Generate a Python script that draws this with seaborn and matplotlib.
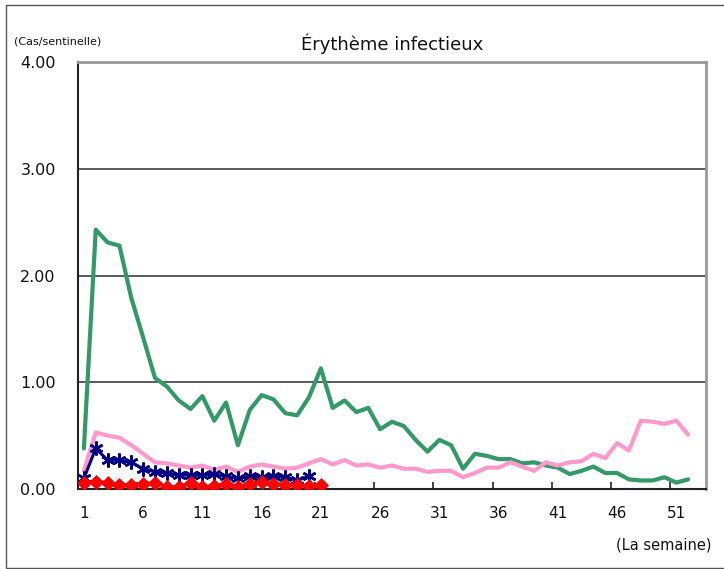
import numpy as np
import pandas as pd
import matplotlib
matplotlib.use("Agg")
import matplotlib.pyplot as plt
import seaborn as sns
from matplotlib.patches import Rectangle
from matplotlib.ticker import FixedLocator, FormatStrFormatter

# Données hebdomadaires (cas par sentinelle)
weeks_full = list(range(1, 53))
weeks_part_blue = list(range(1, 21))
weeks_part_red = list(range(1, 22))

green_vals = [0.38, 2.43, 2.31, 2.28, 1.79, 1.42, 1.04, 0.96, 0.83, 0.75,
              0.87, 0.64, 0.81, 0.41, 0.74, 0.88, 0.84, 0.71, 0.69, 0.86,
              1.13, 0.76, 0.83, 0.72, 0.76, 0.56, 0.63, 0.59, 0.46, 0.35,
              0.46, 0.41, 0.19, 0.33, 0.31, 0.28, 0.28, 0.24, 0.25, 0.22,
              0.20, 0.14, 0.17, 0.21, 0.15, 0.15, 0.09, 0.08, 0.08, 0.11,
              0.06, 0.09]
pink_vals = [0.17, 0.53, 0.50, 0.48, 0.41, 0.33, 0.25, 0.24, 0.22, 0.20,
             0.22, 0.18, 0.21, 0.16, 0.21, 0.23, 0.21, 0.19, 0.20, 0.24,
             0.28, 0.23, 0.27, 0.22, 0.23, 0.20, 0.22, 0.19, 0.19, 0.16,
             0.17, 0.17, 0.11, 0.15, 0.20, 0.20, 0.25, 0.21, 0.17, 0.25,
             0.22, 0.25, 0.26, 0.33, 0.29, 0.43, 0.36, 0.64, 0.63, 0.61,
             0.64, 0.51]
blue_vals = [0.10, 0.38, 0.27, 0.27, 0.25, 0.19, 0.16, 0.15, 0.13, 0.13,
             0.13, 0.14, 0.12, 0.10, 0.12, 0.11, 0.12, 0.11, 0.08, 0.12]
red_vals = [0.06, 0.07, 0.06, 0.04, 0.04, 0.05, 0.06, 0.02, 0.02, 0.06,
            0.02, 0.03, 0.05, 0.02, 0.05, 0.07, 0.05, 0.04, 0.04, 0.03,
            0.04]

x_tick_labels = [str(w) for w in range(1, 52, 5)]
y_ticks = [0, 1, 2, 3, 4]

sns.set_theme(style="white")
plt.rcParams['font.family'] = ['DejaVu Sans']

fig = plt.figure(figsize=(7.24, 5.69), dpi=100)
ax = fig.add_axes([0.1077, 0.1406, 0.975 - 0.1077, 0.891 - 0.1406])

# cadre extérieur
fig.patches.append(Rectangle((6 / 724, 1.5 / 569), 1.2, 1 - 6.5 / 569,
                             transform=fig.transFigure, fill=False,
                             edgecolor='#555555', linewidth=1.0))

# grille horizontale
for v in [1, 2, 3]:
    ax.axhline(v, color='#5a5a5a', linewidth=1.4, zorder=1)

df_green = pd.DataFrame({'semaine': weeks_full, 'cas': green_vals})
df_pink = pd.DataFrame({'semaine': weeks_full, 'cas': pink_vals})
df_blue = pd.DataFrame({'semaine': weeks_part_blue, 'cas': blue_vals})
df_red = pd.DataFrame({'semaine': weeks_part_red, 'cas': red_vals})

sns.lineplot(data=df_green, x='semaine', y='cas', ax=ax, color='#339966',
             linewidth=3.0, zorder=3)
sns.lineplot(data=df_pink, x='semaine', y='cas', ax=ax, color='#ff99cc',
             linewidth=3.0, zorder=4)
# marqueur étoile (astérisque à 6 branches, comme Excel)
sns.lineplot(data=df_blue, x='semaine', y='cas', ax=ax, color='#000080',
             linewidth=2.2, marker=(6, 2, 0), markersize=10,
             markeredgewidth=1.8, markeredgecolor='#000080', zorder=5)
sns.lineplot(data=df_red, x='semaine', y='cas', ax=ax, color='#ff0000',
             linewidth=2.5, marker='D', markersize=7.5, markeredgewidth=0.5,
             markeredgecolor='#ff0000', zorder=6)

ax.set_xlim(0.5, 53.5)
ax.set_ylim(0, 4)
ax.set_xlabel('')
ax.set_ylabel('')

ax.set_xticks(list(range(1, 52, 5)))
ax.set_xticklabels(x_tick_labels)
ax.xaxis.set_minor_locator(FixedLocator([k + 0.5 for k in range(5, 53, 5)]))
ax.tick_params(axis='x', which='major', length=0, pad=12, labelsize=11,
               labelcolor='#111111')
ax.tick_params(axis='x', which='minor', bottom=True, direction='in', length=5,
               width=1.2, color='#222222')

ax.set_yticks(y_ticks)
ax.yaxis.set_major_formatter(FormatStrFormatter('%.2f'))
ax.tick_params(axis='y', length=0, pad=16, labelsize=11.5, labelcolor='#111111')

for side in ['left', 'bottom']:
    ax.spines[side].set_color('#222222')
    ax.spines[side].set_linewidth(1.5)
for side in ['top', 'right']:
    ax.spines[side].set_color('#9a9a9a')
    ax.spines[side].set_linewidth(2.0)
    ax.spines[side].set_visible(True)

ax.set_title('Érythème infectieux', fontsize=13, color='#111111', pad=9)
fig.text(14 / 724, 1 - 42 / 569, '(Cas/sentinelle)', fontsize=8,
         family=['Liberation Sans Narrow', 'DejaVu Sans'], color='#111111',
         ha='left', va='center')
fig.text(712 / 724, 1 - 545 / 569, '(La semaine)', fontsize=10.5,
         color='#111111', ha='right', va='center')

fig.savefig('out.png', dpi=100)
